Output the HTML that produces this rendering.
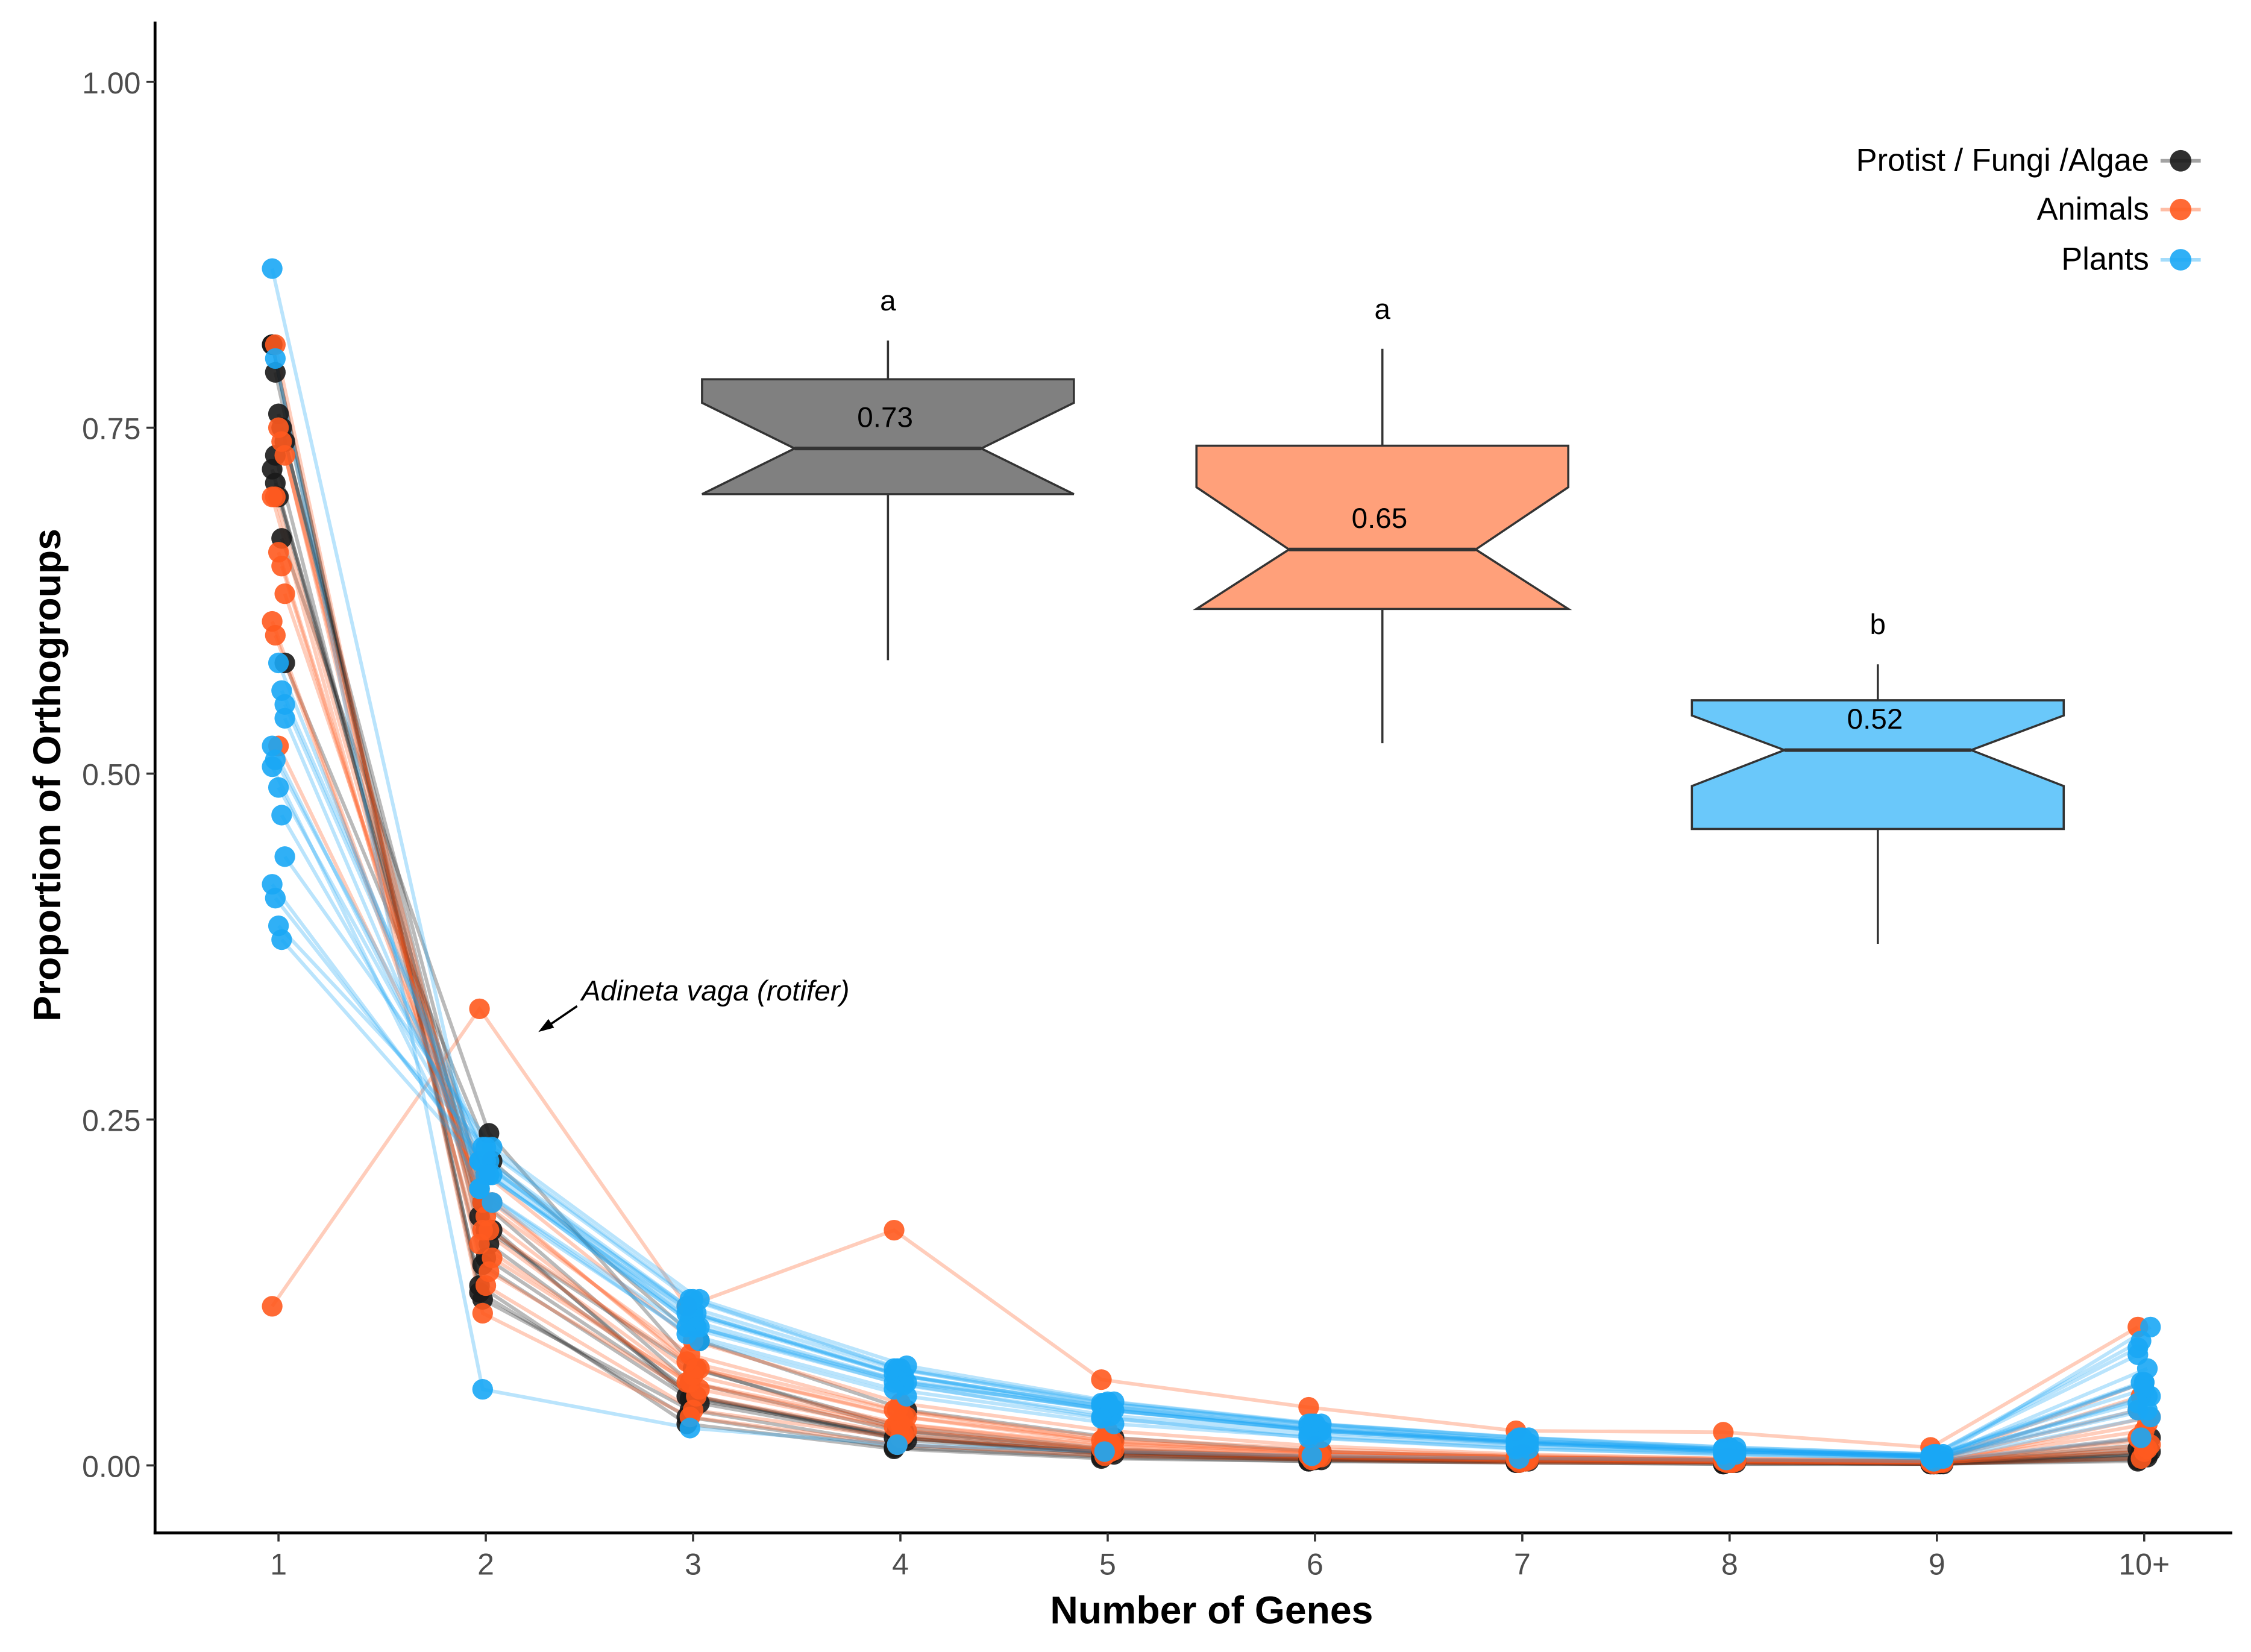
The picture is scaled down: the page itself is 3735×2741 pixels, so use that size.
<!DOCTYPE html>
<html><head><meta charset="utf-8"><style>
html,body{margin:0;padding:0;background:#fff}
svg{display:block}
text{font-family:"Liberation Sans",Arial,sans-serif}
</style></head><body>
<svg id="chart" width="3735" height="2741" viewBox="0 0 1568 1151" preserveAspectRatio="none" xmlns="http://www.w3.org/2000/svg">
<g id="lines"></g>
<g id="points"></g>
<g id="boxes"></g>
<g id="axes"></g>
</svg>
<script>
const categories = ["1","2","3","4","5","6","7","8","9","10+"];
const yTicks = [0, 0.25, 0.5, 0.75, 1.0];
const yTickLabels = ["0.00","0.25","0.50","0.75","1.00"];
const protists = [
[0.81,0.13,0.03,0.012,0.005,0.003,0.002,0.001,0.001,0.003],
[0.79,0.12,0.04,0.015,0.007,0.004,0.002,0.002,0.001,0.005],
[0.76,0.15,0.05,0.02,0.008,0.004,0.003,0.002,0.001,0.008],
[0.75,0.16,0.05,0.02,0.009,0.005,0.003,0.002,0.001,0.006],
[0.74,0.17,0.045,0.018,0.008,0.004,0.003,0.002,0.001,0.01],
[0.72,0.18,0.05,0.02,0.01,0.005,0.003,0.002,0.002,0.012],
[0.71,0.19,0.06,0.025,0.01,0.005,0.003,0.002,0.002,0.01],
[0.70,0.17,0.07,0.028,0.012,0.006,0.004,0.003,0.002,0.015],
[0.67,0.24,0.07,0.025,0.011,0.006,0.004,0.003,0.002,0.008],
[0.58,0.22,0.09,0.04,0.02,0.01,0.006,0.004,0.003,0.02],
[0.81,0.125,0.035,0.013,0.006,0.003,0.002,0.001,0.001,0.004],
[0.73,0.145,0.048,0.022,0.009,0.005,0.003,0.002,0.001,0.007]
];
const animals = [
[0.115,0.33,0.115,0.17,0.062,0.042,0.025,0.024,0.013,0.10],
[0.81,0.11,0.035,0.015,0.007,0.004,0.002,0.002,0.001,0.005],
[0.75,0.13,0.04,0.02,0.009,0.005,0.003,0.002,0.002,0.01],
[0.74,0.14,0.05,0.022,0.01,0.006,0.003,0.002,0.002,0.012],
[0.73,0.15,0.055,0.025,0.011,0.006,0.004,0.003,0.002,0.015],
[0.70,0.16,0.06,0.028,0.012,0.007,0.004,0.003,0.002,0.02],
[0.70,0.17,0.06,0.03,0.014,0.008,0.005,0.003,0.002,0.018],
[0.66,0.18,0.065,0.03,0.015,0.008,0.005,0.004,0.003,0.025],
[0.65,0.17,0.07,0.035,0.016,0.009,0.006,0.004,0.003,0.03],
[0.63,0.19,0.07,0.035,0.017,0.01,0.006,0.004,0.003,0.035],
[0.61,0.2,0.075,0.04,0.018,0.01,0.006,0.004,0.003,0.04],
[0.60,0.19,0.08,0.04,0.02,0.012,0.007,0.005,0.003,0.05],
[0.52,0.21,0.09,0.045,0.025,0.014,0.008,0.005,0.004,0.06]
];
const plants = [
[0.865,0.20,0.10,0.06,0.035,0.02,0.012,0.008,0.005,0.04],
[0.80,0.055,0.027,0.015,0.01,0.007,0.005,0.004,0.003,0.02],
[0.58,0.21,0.11,0.065,0.04,0.025,0.016,0.01,0.006,0.06],
[0.56,0.22,0.11,0.065,0.042,0.026,0.017,0.011,0.007,0.07],
[0.55,0.21,0.10,0.06,0.04,0.025,0.016,0.01,0.006,0.05],
[0.52,0.22,0.115,0.07,0.045,0.03,0.018,0.012,0.007,0.08],
[0.51,0.23,0.12,0.07,0.045,0.03,0.02,0.012,0.008,0.09],
[0.49,0.22,0.11,0.065,0.042,0.027,0.017,0.011,0.007,0.06],
[0.47,0.21,0.10,0.06,0.04,0.025,0.016,0.01,0.006,0.05],
[0.44,0.23,0.12,0.072,0.046,0.03,0.02,0.013,0.008,0.1],
[0.42,0.22,0.11,0.066,0.043,0.028,0.018,0.012,0.007,0.085],
[0.41,0.22,0.105,0.062,0.04,0.026,0.017,0.011,0.007,0.06],
[0.39,0.23,0.12,0.07,0.046,0.03,0.02,0.013,0.008,0.055],
[0.38,0.21,0.10,0.058,0.036,0.024,0.015,0.01,0.006,0.04],
[0.54,0.19,0.09,0.05,0.03,0.02,0.012,0.008,0.005,0.035],
[0.505,0.20,0.095,0.055,0.034,0.022,0.014,0.009,0.006,0.045]
];
const boxLabels = ["0.73","0.65","0.52"];
const boxLetters = ["a","a","b"];
const boxQ3 = [0.785,0.737,0.553];
const boxQ1 = [0.702,0.619,0.460];
const boxMed = [0.735,0.662,0.517];
const boxNotchHi = [0.768,0.707,0.542];
const boxNotchLo = [0.702,0.619,0.491];
const boxWhiskHi = [0.813,0.807,0.579];
const boxWhiskLo = [0.582,0.522,0.377];
const boxCenter = [2.94,5.325,7.715];
const boxFill = ["#808080","#ffa07a","#6ac8fa"];

const NS="http://www.w3.org/2000/svg";
const X = i => 194 + i*144.4;
const Y = v => 1021 - v*964;
function mk(tag, attrs, parent){const e=document.createElementNS(NS,tag);for(const k in attrs)e.setAttribute(k,attrs[k]);parent.appendChild(e);return e;}
const gL=document.getElementById('lines'), gP=document.getElementById('points'), gB=document.getElementById('boxes'), gA=document.getElementById('axes');

const groups=[[protists,"#1a1a1a",0.3,"protist"],[animals,"#ff5a1f",0.3,"animal"],[plants,"#1aa7f5",0.3,"plant"]];
groups.forEach(([data,col,op,nm])=>{
  data.forEach((s,si)=>{
    const jit=((si%5)-2)*2.2;
    const pts=s.map((v,i)=>X(i)+jit+","+Y(v)).join(" ");
    const pl=mk('polyline',{points:pts,fill:'none',stroke:col,'stroke-opacity':op,'stroke-width':2.5},gL);
    
    
  });
});
groups.forEach(([data,col,op,nm])=>{
  data.forEach((s,si)=>{
    const jit=((si%5)-2)*2.2;
    s.forEach((v,i)=>{
      const c=mk('circle',{cx:X(i)+jit,cy:Y(v),r:7.2,fill:col,'fill-opacity':0.9},gP);
      
      
    });
  });
});
boxLabels.forEach((lab,b)=>{
  const cx=X(boxCenter[b]), hw=129.5, nw=65;
  const w=mk('line',{x1:cx,x2:cx,y1:Y(boxWhiskHi[b]),y2:Y(boxWhiskLo[b]),stroke:'#333','stroke-width':1.5},gB);
  
  
  const p=[[cx-hw,Y(boxQ3[b])],[cx+hw,Y(boxQ3[b])],[cx+hw,Y(boxNotchHi[b])],[cx+nw,Y(boxMed[b])],[cx+hw,Y(boxNotchLo[b])],[cx+hw,Y(boxQ1[b])],[cx-hw,Y(boxQ1[b])],[cx-hw,Y(boxNotchLo[b])],[cx-nw,Y(boxMed[b])],[cx-hw,Y(boxNotchHi[b])]];
  const poly=mk('polygon',{points:p.map(q=>q.join(',')).join(' '),fill:boxFill[b],stroke:'#333','stroke-width':1.5},gB);
  
  
  const m=mk('line',{x1:cx-nw,x2:cx+nw,y1:Y(boxMed[b]),y2:Y(boxMed[b]),stroke:'#333','stroke-width':2.5},gB);
  
  
  const t=mk('text',{x:cx-2,y:Y(boxMed[b])-15,'text-anchor':'middle','font-size':20,fill:'#000'},gB);
  t.textContent=lab;
  
  
  const l=mk('text',{x:cx,y:Y(boxWhiskHi[b])-21,'text-anchor':'middle','font-size':20,fill:'#000'},gB);
  l.textContent=boxLetters[b];
  
  
});
mk('line',{x1:108,x2:108,y1:15,y2:1069,stroke:'#000','stroke-width':2},gA);
mk('line',{x1:107,x2:1555,y1:1068,y2:1068,stroke:'#000','stroke-width':2},gA);
yTicks.forEach((v,i)=>{
  mk('line',{x1:102,x2:108,y1:Y(v),y2:Y(v),stroke:'#333','stroke-width':1.5},gA);
  const t=mk('text',{x:98,y:Y(v)+8,'text-anchor':'end','font-size':21,fill:'#4d4d4d'},gA);
  t.textContent=yTickLabels[i];
  
  
});
categories.forEach((c,i)=>{
  mk('line',{x1:X(i),x2:X(i),y1:1068,y2:1074,stroke:'#333','stroke-width':1.5},gA);
  const t=mk('text',{x:X(i),y:1097,'text-anchor':'middle','font-size':21,fill:'#4d4d4d'},gA);
  t.textContent=c;
  
  
});
</script>
<svg style="position:absolute;left:0;top:0" width="3735" height="2741" viewBox="0 0 1568 1151" preserveAspectRatio="none" xmlns="http://www.w3.org/2000/svg">
<text x="844" y="1131" text-anchor="middle" font-size="27" font-weight="bold" fill="#000">Number of Genes</text>
<text transform="translate(42,540) rotate(-90)" text-anchor="middle" font-size="27" font-weight="bold" fill="#000">Proportion of Orthogroups</text>
<text x="405" y="697" font-size="20" font-style="italic" fill="#000">Adineta vaga (rotifer)</text>
<line x1="402" y1="701" x2="380" y2="716" stroke="#000" stroke-width="1.5"/>
<polygon points="375,719 382,710 386,716" fill="#000"/>
<g font-size="22" fill="#000">
<text x="1497" y="119" text-anchor="end">Protist / Fungi /Algae</text>
<line x1="1505" x2="1533" y1="112" y2="112" stroke="#1a1a1a" stroke-opacity="0.4" stroke-width="2.5"/><circle cx="1519" cy="112" r="7.5" fill="#1a1a1a" fill-opacity="0.9"/>
<text x="1497" y="153" text-anchor="end">Animals</text>
<line x1="1505" x2="1533" y1="146" y2="146" stroke="#ff5a1f" stroke-opacity="0.4" stroke-width="2.5"/><circle cx="1519" cy="146" r="7.5" fill="#ff5a1f" fill-opacity="0.9"/>
<text x="1497" y="188" text-anchor="end">Plants</text>
<line x1="1505" x2="1533" y1="181" y2="181" stroke="#1aa7f5" stroke-opacity="0.4" stroke-width="2.5"/><circle cx="1519" cy="181" r="7.5" fill="#1aa7f5" fill-opacity="0.9"/>
</g>
</svg>
</body></html>
